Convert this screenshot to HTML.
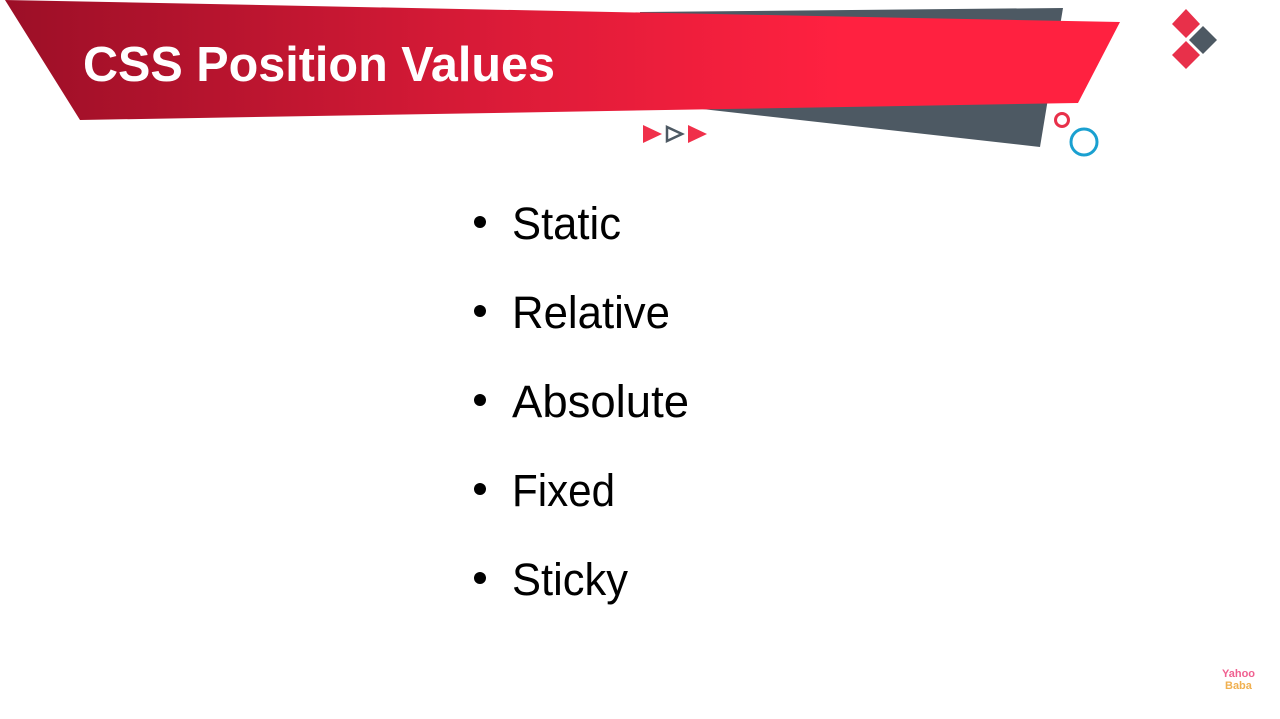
<!DOCTYPE html>
<html><head><style>html,body{margin:0;padding:0;background:#fff;}svg{display:block}</style></head>
<body>
<svg width="1280" height="719" viewBox="0 0 1280 719" xmlns="http://www.w3.org/2000/svg">
<defs>
<linearGradient id="rg" x1="0" x2="1" y1="0" y2="0">
<stop offset="0" stop-color="#9c0f27"/><stop offset="0.45" stop-color="#dc1b38"/><stop offset="0.75" stop-color="#ff2140"/><stop offset="1" stop-color="#ff2140"/>
</linearGradient>
</defs>
<rect width="1280" height="719" fill="#fff"/>
<polygon points="640,12 1063,8 1040,147 640,102" fill="#4d5963"/>
<polygon points="5,0 1120,22 1078,103 80,120" fill="url(#rg)"/>
<text x="83" y="81" font-family="Liberation Sans, sans-serif" font-weight="bold" font-size="49" fill="#fff" textLength="472" lengthAdjust="spacingAndGlyphs">CSS Position Values</text>
<polygon points="643,125 662,134 643,143" fill="#f0304a"/>
<polygon points="667,127 682,134 667,141" fill="none" stroke="#4d5963" stroke-width="2.5"/>
<polygon points="688,125 707,134 688,143" fill="#f0304a"/>
<circle cx="1062" cy="120" r="6.5" fill="none" stroke="#e8304a" stroke-width="3"/>
<circle cx="1084" cy="142" r="13" fill="none" stroke="#1aa0d0" stroke-width="3"/>
<polygon points="1186,9 1200,24 1186,38 1172,24" fill="#e8304a"/>
<polygon points="1203,26 1217,40 1203,54 1189,40" fill="#4d5963"/>
<polygon points="1186,41 1200,55 1186,69 1172,55" fill="#e8304a"/>
<g font-family="Liberation Sans, sans-serif" font-size="45" fill="#000">
<circle cx="480" cy="222" r="6"/><text x="512" y="239" textLength="109" lengthAdjust="spacingAndGlyphs">Static</text>
<circle cx="480" cy="311" r="6"/><text x="512" y="328" textLength="158" lengthAdjust="spacingAndGlyphs">Relative</text>
<circle cx="480" cy="400" r="6"/><text x="512" y="417" textLength="177" lengthAdjust="spacingAndGlyphs">Absolute</text>
<circle cx="480" cy="489" r="6"/><text x="512" y="506" textLength="103" lengthAdjust="spacingAndGlyphs">Fixed</text>
<circle cx="480" cy="578" r="6"/><text x="512" y="595" textLength="116" lengthAdjust="spacingAndGlyphs">Sticky</text>
</g>
<text x="1222" y="677" font-family="Liberation Sans, sans-serif" font-weight="bold" font-size="11" fill="#f06090">Yahoo</text>
<text x="1225" y="689" font-family="Liberation Sans, sans-serif" font-weight="bold" font-size="11" fill="#f0b050">Baba</text>
</svg>
</body></html>
